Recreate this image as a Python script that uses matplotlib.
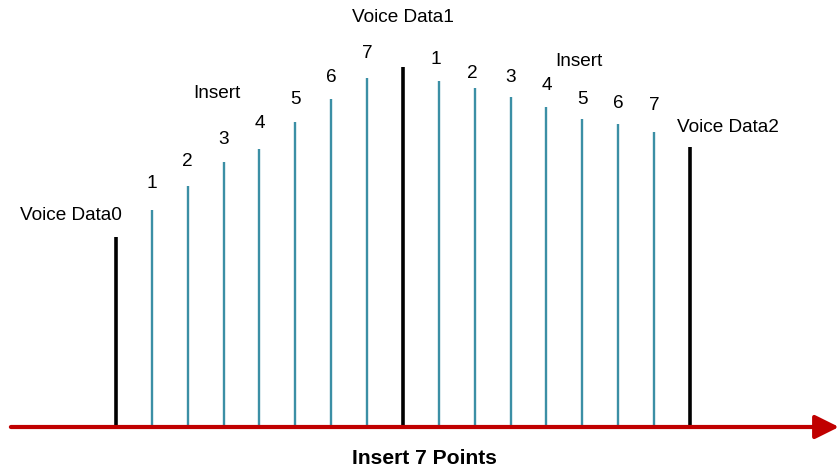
import matplotlib
matplotlib.use("Agg")
import matplotlib.pyplot as plt

# data: stem heights (arbitrary units, pixel-like)
labels = ["Voice Data0", "1", "2", "3", "4", "5", "6", "7",
          "Voice Data1", "1", "2", "3", "4", "5", "6", "7", "Voice Data2"]
heights = [190, 217, 241, 265, 278, 305, 328, 349,
           360, 346, 339, 330, 320, 308, 303, 295, 280]
is_voice = [True] + [False]*7 + [True] + [False]*7 + [True]
# label offsets above stem (dx in index units, dy in height units)
label_dy = [22, 27, 24, 23, 26, 23, 22, 24, 49, 21, 15, 20, 21, 20, 20, 26, 19]
label_dx = [-1.265, 0, 0, 0, 0, 0, 0, 0, 0, -0.08, -0.06, 0, 0, 0, 0, 0, 1.07]
insert_texts = [("Insert", 2.81, 333), ("Insert", 12.9, 366)]
xlabel = "Insert 7 Points"

plt.rcParams['font.family'] = ['Liberation Sans', 'DejaVu Sans']
fig = plt.figure(figsize=(8.39, 4.72), dpi=100)
ax = fig.add_axes([0, 0, 1, 1])
ax.set_xlim(-116/35.875, (839-116)/35.875)
ax.set_ylim(-45, 427)
ax.axis('off')

teal = '#3b8fa5'
for i, (h, v) in enumerate(zip(heights, is_voice)):
    ax.vlines(i, 0, h, color='black' if v else teal, lw=2.6 if v else 1.7, zorder=2)
    ax.text(i + label_dx[i], h + label_dy[i], labels[i], ha='center', va='center',
            fontsize=13.7, color='black')

for t, x, y in insert_texts:
    ax.text(x, y, t, ha='center', va='center', fontsize=13.7, color='black')

ax.annotate('', xy=(20.153, 0), xytext=(-2.93, 0),
            arrowprops=dict(arrowstyle='-|>,head_length=1.45,head_width=0.72',
                            color='#c00000', lw=3, shrinkA=0, shrinkB=0),
            zorder=3)

ax.text(8.6, -32, xlabel, ha='center', va='center', fontsize=15.2, fontweight='bold')

fig.savefig('out.png', dpi=100)
